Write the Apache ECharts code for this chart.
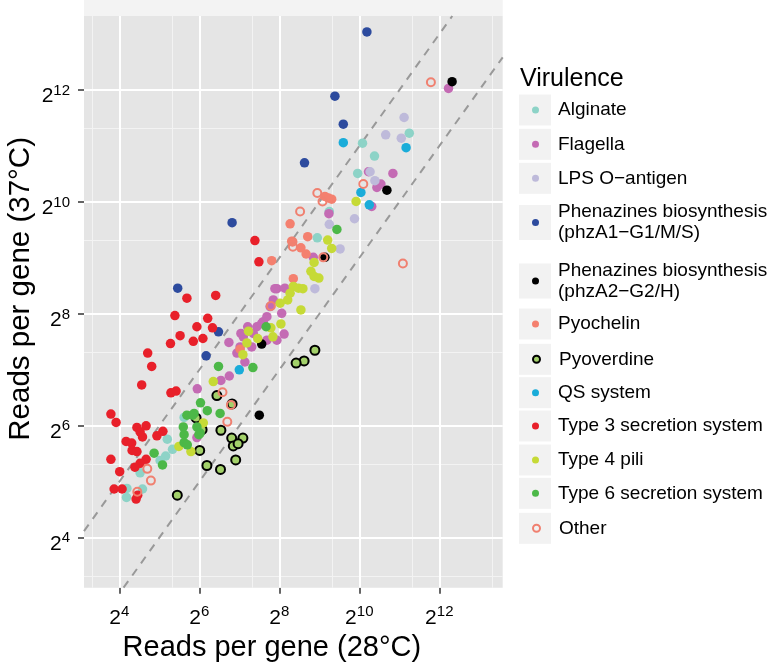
<!DOCTYPE html>
<html><head><meta charset="utf-8">
<script src="https://cdn.jsdelivr.net/npm/echarts@6/dist/echarts.min.js"></script>
<style>html,body{margin:0;padding:0;background:#fff}#c{width:781px;height:664px}</style>
</head><body><div id="c"></div>
<script>
// Values are log2(reads per gene): [28°C, 37°C]
const alginate = [[11.25,11.23],[10.08,11.05],[10.38,10.82],[9.96,10.51],[9.25,9.83],[8.95,9.36],[5.62,6.15],[5.2,5.76],[5.33,5.58],[5.16,5.46],[5.02,5.38],[4.52,5.16],[4.19,4.88],[4.18,4.72],[4.58,4.87]];
const flagella = [[12.23,12.03],[10.84,10.51],[10.44,10.26],[10.54,10.32],[10.23,10.54],[10.31,9.92],[9.24,9.79],[8.85,9.01],[7.94,8.45],[7.85,8.25],[7.77,8.13],[7.69,7.95],[7.6,7.86],[8.06,8.01],[8.12,7.64],[7.44,7.77],[7.21,7.77],[7.04,7.65],[6.74,7.49],[6.94,7.3],[7.14,7.14],[7.31,7.41],[7.69,7.53],[7.94,7.53],[7.35,7.65],[7.89,8.45],[8.14,8.46],[6.75,6.89],[6.54,6.81],[5.95,6.66],[5.94,5.79],[7.56,7.83],[7.1,7.59],[7.02,7.41]];
const lpsOAntigen = [[11.12,11.51],[10.66,11.2],[11.05,11.14],[10.27,10.54],[10.39,10.38],[9.25,9.6],[9.88,9.7],[9.52,9.16],[8.89,8.45]];
const phenazines1 = [[10.19,13.04],[9.39,11.89],[9.6,11.39],[8.63,10.7],[6.82,9.63],[5.46,8.46],[6.48,7.68],[6.17,7.25]];
const phenazines2 = [[12.32,12.15],[10.69,10.21],[9.14,9.01],[7.56,7.46],[7.5,6.19]];
const pyochelin = [[9.14,10.1],[9.31,10.05],[9.23,10.07],[8.27,9.61],[8.71,9.38],[8.31,9.3],[8.54,9.18],[8.67,9.07],[7.81,8.95],[8.35,8.63],[7.02,7.37]];
const pyoverdine = [[8.89,7.35],[8.62,7.16],[8.42,7.12],[6.44,6.54],[6.82,6.39],[5.92,6.14],[6.54,5.92],[6.07,5.93],[6.81,5.78],[7.09,5.78],[6.85,5.64],[6.97,5.68],[6.01,5.56],[6.19,5.29],[6.53,5.22],[6.91,5.39],[5.45,4.76]];
const qsSystem = [[9.6,11.06],[11.17,10.97],[10.04,10.17],[10.25,9.95],[7.0,7.0]];
const t3ss = [[7.39,9.31],[7.49,8.93],[5.69,8.28],[6.41,8.33],[5.39,7.97],[6.21,7.92],[5.94,7.77],[6.33,7.75],[5.52,7.61],[5.28,7.47],[5.85,7.51],[6.09,7.56],[4.71,7.3],[4.81,7.06],[4.56,6.73],[5.29,6.59],[5.42,6.62],[3.79,6.21],[3.92,6.06],[4.44,5.97],[4.67,6.0],[4.58,5.8],[4.94,5.82],[5.09,5.9],[4.17,5.72],[4.31,5.69],[4.32,5.56],[4.44,5.54],[4.67,5.4],[4.52,5.33],[4.39,5.26],[3.79,5.4],[4.01,5.18],[3.87,4.87],[4.07,4.87],[4.42,4.69],[4.46,4.76],[4.52,5.89]];
const t4pili = [[9.92,10.01],[9.21,9.32],[9.31,9.17],[8.87,8.92],[8.79,8.76],[8.87,8.67],[8.99,8.64],[8.35,8.49],[8.48,8.46],[8.59,8.45],[8.27,8.37],[8.21,8.25],[8.02,8.19],[8.54,8.07],[8.04,7.82],[7.79,7.75],[7.23,7.69],[7.19,7.48],[7.09,7.27],[7.46,7.56],[7.84,7.59],[6.35,6.79],[6.1,6.05],[5.49,5.63],[5.79,5.54]];
const t6ss = [[9.44,9.51],[7.67,7.77],[6.48,7.06],[7.34,7.04],[6.03,6.41],[6.2,6.27],[6.52,6.22],[5.69,6.19],[5.87,6.22],[5.6,5.98],[5.94,5.98],[6.02,5.87],[5.62,5.84],[5.62,5.7],[5.99,5.84],[5.7,5.66],[4.87,5.51],[5.08,5.3],[5.83,6.19]];
const other = [[11.79,12.14],[10.1,10.32],[8.95,10.16],[9.08,10.01],[8.52,9.83],[8.33,9.29],[8.34,9.2],[9.1,9.01],[11.09,8.9],[7.79,8.14],[6.58,6.6],[6.79,6.37],[6.7,6.07],[4.7,5.23],[4.79,5.02],[4.45,4.82]];

const categories = ['Alginate','Flagella','LPS O\u2212antigen','Phenazines biosynthesis (phzA1\u2212G1/M/S)','Phenazines biosynthesis (phzA2\u2212G2/H)','Pyochelin','Pyoverdine','QS system','Type 3 secretion system','Type 4 pili','Type 6 secretion system','Other'];
const categoryData = [alginate, flagella, lpsOAntigen, phenazines1, phenazines2, pyochelin, pyoverdine, qsSystem, t3ss, t4pili, t6ss, other];

const xTicks = [4,6,8,10,12];
const yTicks = [4,6,8,10,12];
const xMinor = [3.333,5.333,7.333,9.333,11.333,13.333];
const yMinor = [3.315,5.315,7.315,9.315,11.315];
const foldOffsets = [1,-1];
const X_MIN = 3.1175, X_MAX = 13.585, Y_MIN = 3.106, Y_MAX = 13.324;

const FONT = "'Liberation Sans', Arial, Helvetica, sans-serif";
const styles = [
  {color:'#8DD3C7'},
  {color:'#C46BB4'},
  {color:'#BEBADA'},
  {color:'#2D4B9E'},
  {color:'#000000'},
  {color:'#F4806F'},
  {color:'#A3D16A', borderColor:'#000', borderWidth:2},
  {color:'#1AACD9'},
  {color:'#E8202A'},
  {color:'#C6DA36'},
  {color:'#4CB848'},
  {color:'rgba(0,0,0,0)', borderColor:'#F08070', borderWidth:2}
];
const sizes = [9.5,9.5,9.5,9.5,9.5,9.5,9,9.5,9.5,9.5,9.5,8];

const series = [];
series.push({
  type:'scatter', name:'__grid', data:[], z:1, silent:true,
  markLine:{z:1, silent:true, symbol:['none','none'], label:{show:false}, animation:false, emphasis:{disabled:true},
    data:[].concat(
      xMinor.map(v=>({xAxis:v, lineStyle:{color:'#F3F3F3', width:1, type:'solid'}})),
      yMinor.map(v=>({yAxis:v, lineStyle:{color:'#F3F3F3', width:1, type:'solid'}})),
      xTicks.map(v=>({xAxis:v, lineStyle:{color:'#FFFFFF', width:2, type:'solid'}})),
      yTicks.map(v=>({yAxis:v, lineStyle:{color:'#FFFFFF', width:2, type:'solid'}}))
    )}
});
series.push({
  type:'scatter', name:'__fold', data:[], z:2, silent:true,
  markLine:{z:2, silent:true, symbol:['none','none'], label:{show:false}, animation:false, emphasis:{disabled:true},
    lineStyle:{color:'#999999', width:2, type:[8,7]},
    data: foldOffsets.map(c=>{
      const x0 = Math.max(X_MIN, Y_MIN - c), x1 = Math.min(X_MAX, Y_MAX - c);
      return [{coord:[x0, x0 + c]}, {coord:[x1, x1 + c]}];
    })}
});
categories.forEach((name,i)=>{
  series.push({type:'scatter', name:name, data:categoryData[i], symbol:'circle', symbolSize:sizes[i], z:10,
    itemStyle:Object.assign({opacity:1}, styles[i]), emphasis:{disabled:true}});
});

const legendCenters = [110,144.3,178.3,222.5,281,324,359.3,392.7,426,460,493.3,528.3];
const twoLine = n => n.indexOf(' (') >= 0;
const legends = categories.map((name,i)=>({
  data:[name], orient:'vertical', left:532, top: legendCenters[i] - (twoLine(name) ? 21 : 10.5),
  padding:0, itemWidth:7, itemHeight:7, itemGap:0, selectedMode:false, z:10,
  formatter: n => n.replace(' (', '\n('),
  textStyle:{fontSize:19, lineHeight:21, color:'#000', fontFamily:FONT, padding:[0,0,0,14]}
}));
const graphics = [{type:'rect', shape:{x:84, y:0, width:418.7, height:16}, style:{fill:'#F3F3F3'}, z:0, silent:true}];
categories.forEach((name,i)=>{
  const h = twoLine(name) ? 35 : 31;
  graphics.push({type:'rect', shape:{x:519, y:legendCenters[i]-h/2, width:32, height:h}, style:{fill:'#F2F2F2'}, z:0, silent:true});
});

const supLabel = v => '{b|2}{s|' + v + '}';
const rich = {b:{fontSize:21, lineHeight:24, verticalAlign:'bottom', color:'#000', fontFamily:FONT},
              s:{fontSize:15, lineHeight:13, verticalAlign:'top', color:'#000', fontFamily:FONT}};

const option = {
  animation:false,
  backgroundColor:'#ffffff',
  textStyle:{fontFamily:FONT},
  title:{text:'Virulence', left:520, top:66, padding:0, textStyle:{fontSize:25, fontWeight:'normal', color:'#000', fontFamily:FONT, lineHeight:26}},
  grid:{left:84, top:16, width:418.7, height:571.7, show:true, backgroundColor:'#E5E5E5', borderWidth:0, containLabel:false, outerBoundsMode:'none'},
  xAxis:{type:'value', min:X_MIN, max:X_MAX, splitLine:{show:false}, axisLine:{show:false},
    axisTick:{show:true, customValues:xTicks, length:6, lineStyle:{color:'#333', width:1.5}},
    axisLabel:{customValues:xTicks, margin:17, color:'#000', formatter:supLabel, rich:rich},
    name:'Reads per gene (28\u00B0C)', nameLocation:'middle', nameGap:44, nameMoveOverlap:false,
    nameTextStyle:{fontSize:29, color:'#000', fontFamily:FONT, padding:[0,43,0,0], lineHeight:32}},
  yAxis:{type:'value', min:Y_MIN, max:Y_MAX, splitLine:{show:false}, axisLine:{show:false},
    axisTick:{show:true, customValues:yTicks, length:6, lineStyle:{color:'#333', width:1.5}},
    axisLabel:{customValues:yTicks, margin:14, color:'#000', formatter:supLabel, rich:rich, align:'right', padding:[10,0,0,0]},
    name:'Reads per gene (37\u00B0C)', nameLocation:'middle', nameRotate:90, nameGap:47, nameMoveOverlap:false,
    nameTextStyle:{fontSize:29.5, color:'#000', fontFamily:FONT, padding:[0,0,0,26], lineHeight:32}},
  legend:legends,
  graphic:graphics,
  series:series
};
const chart = echarts.init(document.getElementById('c'));
chart.setOption(option);
</script></body></html>
